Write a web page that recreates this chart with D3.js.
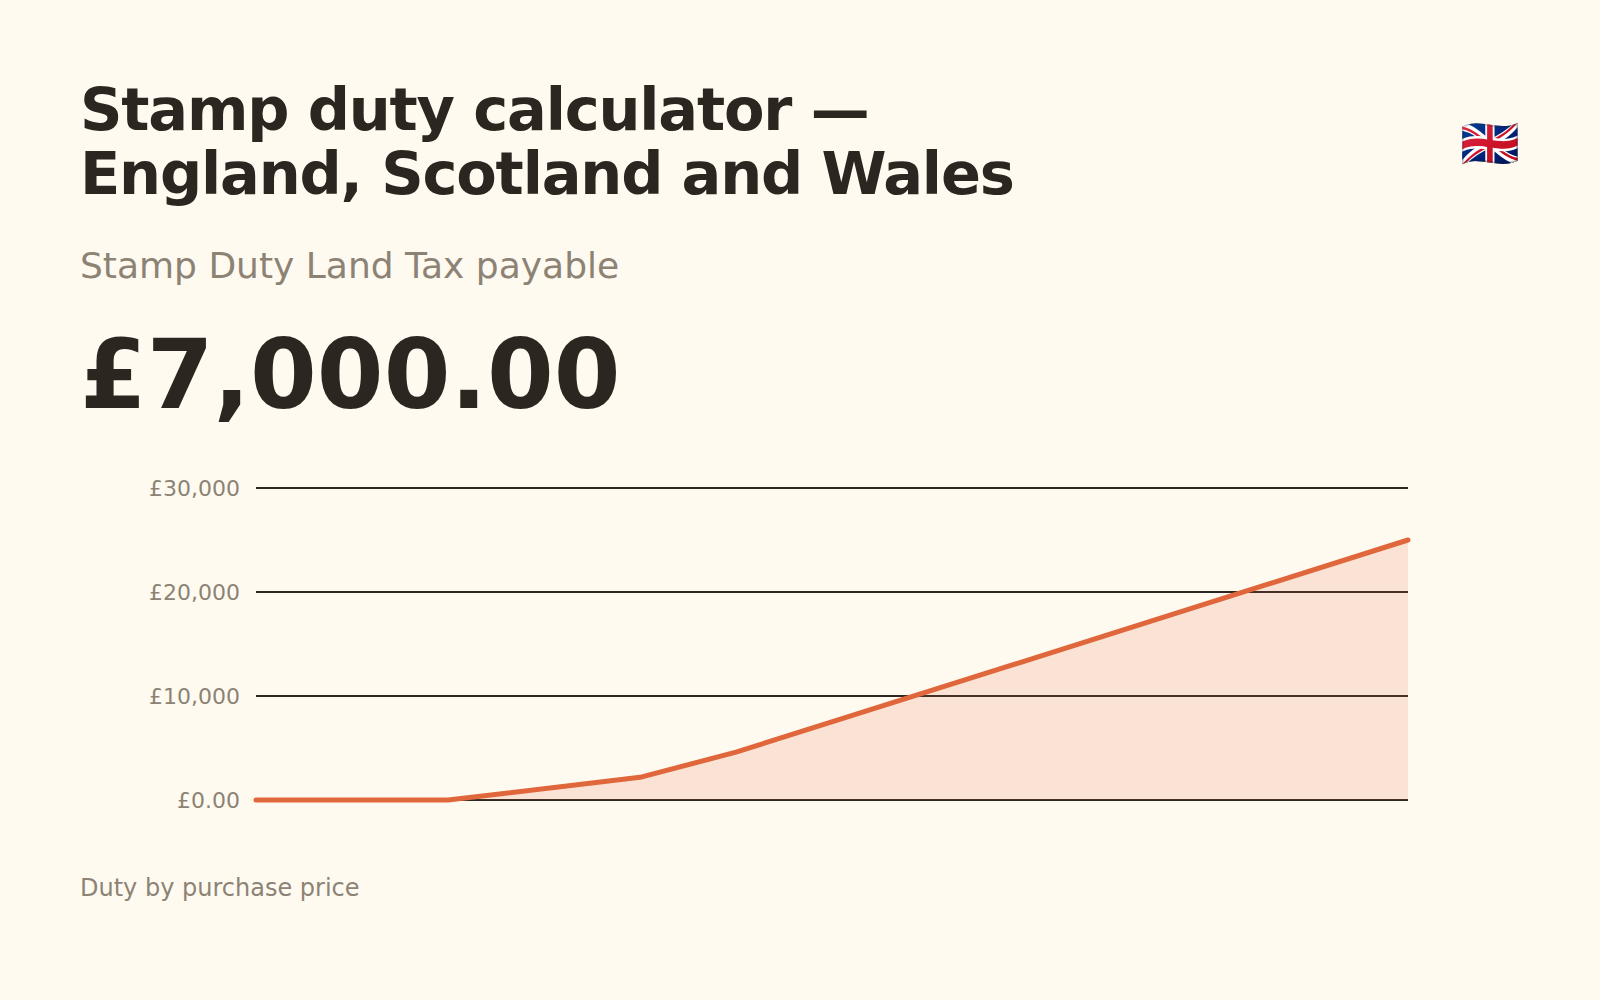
<!DOCTYPE html>
<html>
<head>
<meta charset="utf-8">
<script src="https://cdnjs.cloudflare.com/ajax/libs/d3/7.8.5/d3.min.js"></script>
<style>
  html, body { margin: 0; padding: 0; background: #fffaf0; }
  text { font-family: "DejaVu Sans", sans-serif; }
</style>
</head>
<body>
<div id="chart"></div>
<script>
var svgWidth = 1600;
var svgHeight = 1000;

var prices = [0, 125000, 250000, 312500, 750000];
var duty = [0, 0, 2180, 4600, 25000];
var yTicks = [0, 10000, 20000, 30000];
var yTickLabels = ["£0.00", "£10,000", "£20,000", "£30,000"];
var titleLines = ["Stamp duty calculator —", "England, Scotland and Wales"];

var svg = d3.select("#chart")
  .append("svg")
  .attr("width", svgWidth)
  .attr("height", svgHeight)
  .style("display", "block");

svg.append("rect")
  .attr("width", svgWidth)
  .attr("height", svgHeight)
  .attr("fill", "#fffaf0");

// title block
svg.selectAll(".title")
  .data(titleLines)
  .enter()
  .append("text")
  .attr("class", "title")
  .attr("x", 80)
  .attr("y", (d, i) => 130 + i * 64)
  .attr("font-size", 59)
  .attr("font-weight", 700)
  .attr("letter-spacing", "-0.02em")
  .attr("fill", "#2b2720")
  .text(d => d);

svg.append("text")
  .attr("x", 80)
  .attr("y", 278)
  .attr("font-size", 36)
  .attr("fill", "#8c8375")
  .text("Stamp Duty Land Tax payable");

svg.append("text")
  .attr("x", 80)
  .attr("y", 408)
  .attr("font-size", 96)
  .attr("font-weight", 700)
  .attr("fill", "#2b2720")
  .text("£7,000.00");

svg.append("text")
  .attr("x", 1490)
  .attr("y", 160)
  .attr("font-size", 48)
  .attr("text-anchor", "middle")
  .text("🇬🇧");

svg.append("text")
  .attr("x", 80)
  .attr("y", 896)
  .attr("font-size", 24)
  .attr("fill", "#8c8375")
  .text("Duty by purchase price");

// scales
var xScale = d3.scaleLinear().domain([0, 750000]).range([256, 1408]);
var yScale = d3.scaleLinear().domain([0, 30000]).range([800, 488]);

// axis with the gridlines as ticks
var leftAxis = d3.axisLeft(yScale)
  .tickValues(yTicks)
  .tickFormat((d, i) => yTickLabels[i])
  .tickSize(0)
  .tickPadding(16);

var yAxis = svg.append("g")
  .attr("transform", "translate(256, 0)")
  .call(leftAxis);
yAxis.select(".domain").remove();
yAxis.selectAll("text")
  .attr("font-size", 22)
  .attr("font-family", "DejaVu Sans")
  .attr("fill", "#8c8375");

svg.append("g")
  .selectAll("line")
  .data(yTicks)
  .enter()
  .append("line")
  .attr("x1", xScale(0))
  .attr("x2", xScale(750000))
  .attr("y1", d => yScale(d))
  .attr("y2", d => yScale(d))
  .attr("stroke", "#2b2720")
  .attr("stroke-width", 2);

var points = prices.map((p, i) => [p, duty[i]]);

var area = d3.area()
  .x(d => xScale(d[0]))
  .y0(yScale(0))
  .y1(d => yScale(d[1]));

var line = d3.line()
  .x(d => xScale(d[0]))
  .y(d => yScale(d[1]));

svg.append("path")
  .attr("d", area(points))
  .attr("fill", "#e0673c")
  .attr("fill-opacity", 0.15);

svg.append("path")
  .attr("d", line(points))
  .attr("fill", "none")
  .attr("stroke", "#e0673c")
  .attr("stroke-width", 5)
  .attr("stroke-linecap", "round")
  .attr("stroke-linejoin", "round");
</script>
</body>
</html>
